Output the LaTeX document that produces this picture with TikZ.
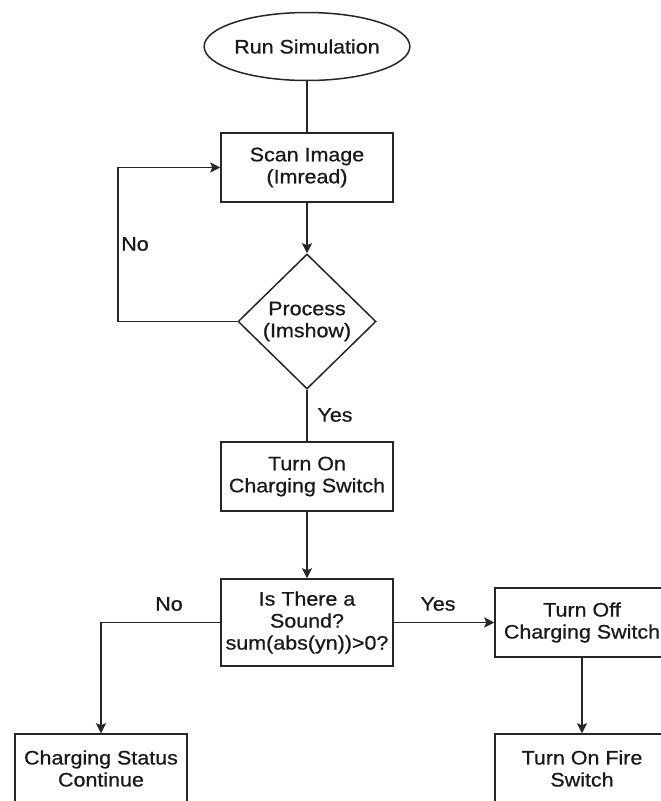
\documentclass[tikz,border=0pt]{standalone}
\usepackage{fontspec}
\setmainfont{Liberation Sans}[FakeStretch=1.1,FakeBold=0.7]
\usetikzlibrary{shapes.geometric,arrows.meta}
\begin{document}
\begin{tikzpicture}[x=1pt,y=-1pt,
  every node/.style={font=\fontsize{19.5}{22}\selectfont, align=center, text=black!90},
  proc/.style={draw=black!85, line width=1.5pt, rectangle, minimum width=172pt, inner sep=0pt},
  decis/.style={draw=black!85, line width=1.5pt, diamond, minimum width=138pt, minimum height=135pt, inner sep=0pt},
  term/.style={draw=black!85, line width=1.5pt, ellipse, minimum width=162pt, minimum height=68pt, inner sep=0pt},
  conn/.style={line width=1.5pt, draw=black!85},
  arr/.style={conn, -{Stealth[length=10pt,width=10pt,inset=2pt]}},
  lbl/.style={inner sep=0pt}]
\useasboundingbox (0,0) rectangle (661,801);
\node[term] (start) at (307,46.5) {Run Simulation};
\node[proc, minimum height=69pt] (scan) at (307,167.5) {Scan Image\\(Imread)};
\node[decis] (dec) at (307,321.5) {Process\\(Imshow)};
\node[proc, minimum height=69pt] (on) at (307,476.5) {Turn On\\Charging Switch};
\node[proc, minimum height=87pt] (sound) at (307,622.5) {Is There a\\Sound?\\sum(abs(yn))>0?};
\node[proc, minimum height=69pt] (status) at (101,768.5) {Charging Status\\Continue};
\node[proc, minimum height=69pt, minimum width=174pt] (off) at (582,622.5) {Turn Off\\Charging Switch};
\node[proc, minimum height=69pt, minimum width=174pt] (fire) at (582,768.5) {Turn On Fire\\Switch};
\coordinate (loop) at (118,321.5);
\draw[conn] (start) -- (scan);
\draw[arr] (scan) -- (dec);
\draw[arr] (dec.west) -- (loop) |- (scan.west);
\draw[conn] (dec.south) -- (on.north);
\draw[arr] (on) -- (sound);
\draw[arr] (sound.west) -| (status.north);
\draw[arr] (sound.east) -- (off.west);
\draw[arr] (off) -- (fire);
\node[lbl] (no1) at (135,244) {No};
\node[lbl] (yes1) at (335,415) {Yes};
\node[lbl] (no2) at (169,604) {No};
\node[lbl] (yes2) at (438,604) {Yes};
\end{tikzpicture}
\end{document}
